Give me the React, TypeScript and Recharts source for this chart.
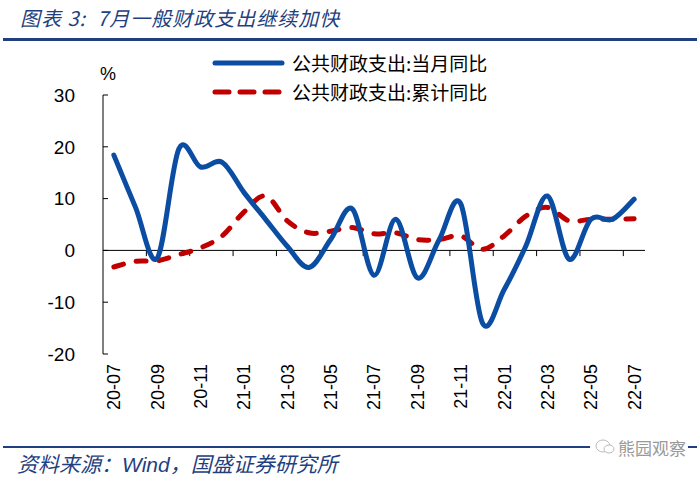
import React from 'react';
import { LineChart, Line, XAxis, YAxis, ReferenceLine } from 'recharts';

const months = ['20-07','20-08','20-09','20-10','20-11','20-12','21-01','21-02','21-03','21-04','21-05','21-06','21-07','21-08','21-09','21-10','21-11','21-12','22-01','22-02','22-03','22-04','22-05','22-06','22-07'];
const monthlyYoY = [18.4, 8.3, -1.5, 19.6, 16.1, 17.0, 11.2, 6.0, 0.8, -3.3, 2.1, 8.0, -4.8, 6.0, -5.3, 2.0, 9.0, -14.0, -7.6, 0.8, 10.5, -1.7, 6.0, 6.0, 9.9];
const cumulativeYoY = [-3.2, -2.1, -2.0, -0.8, 0.5, 2.8, 7.4, 10.5, 5.7, 3.4, 3.7, 4.4, 3.2, 3.4, 2.1, 2.1, 2.8, 0.2, 2.8, 6.6, 8.3, 5.7, 6.0, 6.0, 6.1];
const yTicks = [-20, -10, 0, 10, 20, 30];
const seriesNames = ['公共财政支出:当月同比', '公共财政支出:累计同比'];

const data = months.map((m, i) => ({ idx: i, month: m, monthly: monthlyYoY[i], cumulative: cumulativeYoY[i] }));
const labelTicks = months.map((_, i) => i).filter((i) => i % 2 === 0);
const boundaryTicks = months.map((_, i) => i + 0.5).filter((v) => Math.floor(v) % 2 === 1 && v < months.length - 1);

const BLUE = '#0B4DA2';
const RED = '#C00000';
const NAVY = '#1F3F80';
const TICK_FONT = '"Liberation Sans", Arial, sans-serif';
const CJK_FONT = '"Noto Sans CJK SC", sans-serif';

// Catmull-Rom style smoothing similar to spreadsheet smoothed lines
const smoothCurve: any = (context: any) => {
  let pts: number[][] = [];
  return {
    areaStart() {},
    areaEnd() {},
    lineStart() { pts = []; },
    point(x: number, y: number) { pts.push([+x, +y]); },
    lineEnd() {
      if (!pts.length) return;
      context.moveTo(pts[0][0], pts[0][1]);
      for (let i = 0; i < pts.length - 1; i++) {
        const p0 = pts[i - 1] || pts[i];
        const p1 = pts[i];
        const p2 = pts[i + 1];
        const p3 = pts[i + 2] || p2;
        const c1x = p1[0] + (p2[0] - p0[0]) / 6;
        const c1y = p1[1] + (p2[1] - p0[1]) / 6;
        const c2x = p2[0] - (p3[0] - p1[0]) / 6;
        const c2y = p2[1] - (p3[1] - p1[1]) / 6;
        context.bezierCurveTo(c1x, c1y, c2x, c2y, p2[0], p2[1]);
      }
    },
  };
};

const YTick = (props: any) => {
  const { x, y, payload } = props;
  return (
    <g>
      <line x1={x} y1={y} x2={x + 5} y2={y} stroke="#000" strokeWidth={1} />
      <text x={x - 28} y={y} dy="0.36em" textAnchor="end" fontSize={19} fontFamily={TICK_FONT} fill="#000">
        {payload.value}
      </text>
    </g>
  );
};

const XTick = (props: any) => {
  const { x, y, payload } = props;
  return (
    <text
      x={x}
      y={y}
      dx={-10}
      dy="0.36em"
      transform={`rotate(-90 ${x} ${y})`}
      textAnchor="end"
      fontSize={18}
      fontFamily={TICK_FONT}
      fill="#000"
    >
      {months[payload.value]}
    </text>
  );
};

const LegendBox = () => (
  <div style={{ position: 'absolute', left: 212, top: 48, fontFamily: CJK_FONT, fontSize: 19, color: '#000', lineHeight: '29px' }}>
    <div style={{ display: 'flex', alignItems: 'center', height: 29 }}>
      <svg width={80} height={10}>
        <line x1={3} y1={5} x2={70} y2={5} stroke={BLUE} strokeWidth={5} strokeLinecap="round" />
      </svg>
      <span>{seriesNames[0]}</span>
    </div>
    <div style={{ display: 'flex', alignItems: 'center', height: 29 }}>
      <svg width={80} height={10}>
        <line x1={3} y1={5} x2={70} y2={5} stroke={RED} strokeWidth={5} strokeLinecap="round" strokeDasharray="14 11" />
      </svg>
      <span>{seriesNames[1]}</span>
    </div>
  </div>
);

export default function App() {
  return (
    <div style={{ position: 'absolute', left: 0, top: 0, width: 700, height: 482, background: '#fff', overflow: 'hidden' }}>
      <div style={{ position: 'absolute', left: 20, top: 3, fontFamily: CJK_FONT, fontStyle: 'italic', fontSize: 20, color: NAVY, letterSpacing: 1, whiteSpace: 'nowrap' }}>
        图表 3:&nbsp;&nbsp;7月一般财政支出继续加快
      </div>
      <div style={{ position: 'absolute', left: 3, top: 38, width: 694, height: 3, background: NAVY }} />
      <div style={{ position: 'absolute', left: 100, top: 64, fontFamily: TICK_FONT, fontSize: 18, color: '#000' }}>%</div>
      <LineChart width={700} height={482} data={data} margin={{ top: 95, right: 55, bottom: 68, left: 0 }}>
        <XAxis
          dataKey="idx"
          type="number"
          domain={[-0.5, months.length - 0.5]}
          ticks={labelTicks}
          interval={0}
          axisLine={false}
          tickLine={false}
          tickSize={0}
          tickMargin={0}
          height={60}
          tick={<XTick />}
        />
        <YAxis
          type="number"
          domain={[-20, 30]}
          ticks={yTicks}
          width={103}
          axisLine={{ stroke: '#000', strokeWidth: 1 }}
          tickLine={false}
          tickSize={0}
          tickMargin={0}
          tick={<YTick />}
          interval={0}
        />
        <ReferenceLine y={0} stroke="#000" strokeWidth={1} />
        {boundaryTicks.map((b) => (
          <ReferenceLine
            key={b}
            segment={[{ x: b, y: 0 }, { x: b, y: -1.1 }]}
            stroke="#000"
            strokeWidth={1}
          />
        ))}
        <Line
          type={smoothCurve}
          dataKey="cumulative"
          name={seriesNames[1]}
          stroke={RED}
          strokeWidth={5}
          strokeDasharray="10 13"
          strokeLinecap="round"
          dot={false}
          activeDot={false}
          isAnimationActive={false}
        />
        <Line
          type={smoothCurve}
          dataKey="monthly"
          name={seriesNames[0]}
          stroke={BLUE}
          strokeWidth={5}
          strokeLinecap="round"
          dot={false}
          activeDot={false}
          isAnimationActive={false}
        />
      </LineChart>
      <LegendBox />
      <div style={{ position: 'absolute', left: 3, top: 446, width: 694, height: 2, background: NAVY }} />
      <div style={{ position: 'absolute', left: 590, top: 436, height: 22, background: '#fff', display: 'flex', alignItems: 'center', paddingLeft: 4, paddingRight: 2 }}>
        <svg width={22} height={18}>
          <ellipse cx={9} cy={8} rx={7} ry={6} fill="none" stroke="#bbb" strokeWidth={1} />
          <ellipse cx={15} cy={11} rx={5} ry={4} fill="#fff" stroke="#bbb" strokeWidth={1} />
        </svg>
        <span style={{ fontFamily: CJK_FONT, fontSize: 17, color: '#999', marginLeft: 2 }}>熊园观察</span>
      </div>
      <div style={{ position: 'absolute', left: 17, top: 448, fontFamily: CJK_FONT, fontStyle: 'italic', fontSize: 21, color: NAVY, whiteSpace: 'nowrap' }}>
        资料来源：<span style={{ fontFamily: TICK_FONT }}>Wind</span>，国盛证券研究所
      </div>
    </div>
  );
}
